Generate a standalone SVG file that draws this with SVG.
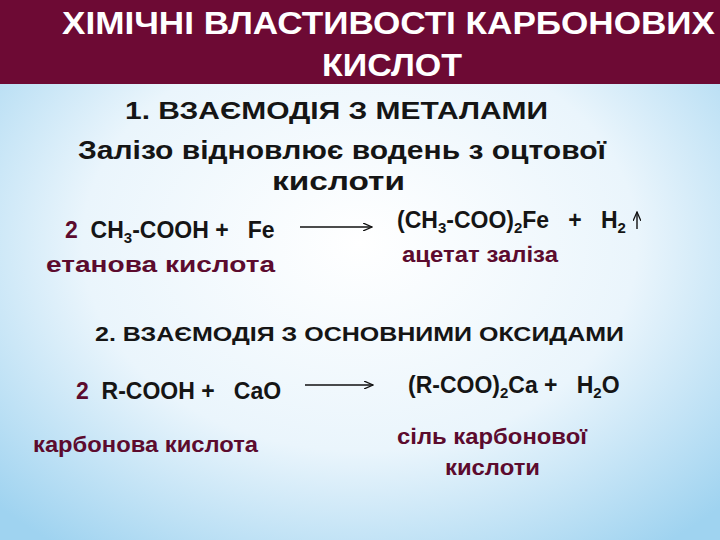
<svg xmlns="http://www.w3.org/2000/svg" width="720" height="540" viewBox="0 0 720 540">
<defs>
<radialGradient id="bg" cx="50%" cy="45%" r="70%">
<stop offset="0" stop-color="#ffffff"/>
<stop offset="0.55" stop-color="#eaf5fc"/>
<stop offset="1" stop-color="#9fd3f0"/>
</radialGradient>
<marker id="ah" markerWidth="10" markerHeight="8" refX="9" refY="4" orient="auto" markerUnits="userSpaceOnUse">
<path d="M0,0 L9,4 L0,8" fill="none" stroke="#111" stroke-width="1.3"/>
</marker>
<style>
text{font-family:"Liberation Sans",Arial,sans-serif;font-weight:bold;fill:#151515;white-space:pre}
.t{fill:#fff;font-size:31px}
.h{font-size:24px}
.r{font-size:23px}
.m{fill:#5c0b2e}
.l{font-size:22px;fill:#5c0b2e}
line{stroke:#111;stroke-width:1.4}
</style>
</defs>
<rect width="720" height="540" fill="url(#bg)"/>
<g id="header">
<rect width="720" height="84" fill="#6d0a34"/>
<text class="t" x="62" y="34" textLength="653" lengthAdjust="spacingAndGlyphs">ХІМІЧНІ ВЛАСТИВОСТІ КАРБОНОВИХ</text>
<text class="t" x="322" y="76" textLength="140" lengthAdjust="spacingAndGlyphs">КИСЛОТ</text>
</g>
<g id="section1">
<text class="h" x="125" y="119" textLength="423" lengthAdjust="spacingAndGlyphs">1. ВЗАЄМОДІЯ З МЕТАЛАМИ</text>
<text class="h" x="78" y="159" textLength="528" lengthAdjust="spacingAndGlyphs" style="font-size:25px">Залізо відновлює водень з оцтової</text>
<text class="h" x="272" y="190" textLength="133" lengthAdjust="spacingAndGlyphs" style="font-size:25px">кислоти</text>
</g>
<g id="reaction1">
<text class="r" x="65" y="238"><tspan class="m">2</tspan>  CH<tspan font-size="15" dy="5">3</tspan><tspan dy="-5">-COOH +   Fe</tspan></text>
<text class="r" x="397" y="228">(CH<tspan font-size="15" dy="5">3</tspan><tspan dy="-5">-COO)</tspan><tspan font-size="15" dy="5">2</tspan><tspan dy="-5">Fe   +   H</tspan><tspan font-size="15" dy="5">2</tspan></text>
<text class="l" x="46" y="272" textLength="229" lengthAdjust="spacingAndGlyphs">етанова кислота</text>
<text class="l" x="402" y="262" textLength="156" lengthAdjust="spacingAndGlyphs">ацетат заліза</text>
</g>
<g id="section2">
<text class="h" x="95" y="341" textLength="529" lengthAdjust="spacingAndGlyphs" style="font-size:21px">2. ВЗАЄМОДІЯ З ОСНОВНИМИ ОКСИДАМИ</text>
</g>
<g id="reaction2">
<text class="r" x="76" y="399"><tspan class="m">2</tspan>  R-COOH +   CaO</text>
<text class="r" x="408" y="393">(R-COO)<tspan font-size="15" dy="5">2</tspan><tspan dy="-5">Ca +   H</tspan><tspan font-size="15" dy="5">2</tspan><tspan dy="-5">O</tspan></text>
<text class="l" x="33" y="452" textLength="225" lengthAdjust="spacingAndGlyphs">карбонова кислота</text>
<text class="l" x="397" y="444" textLength="190" lengthAdjust="spacingAndGlyphs">сіль карбонової</text>
<text class="l" x="445" y="475" textLength="95" lengthAdjust="spacingAndGlyphs">кислоти</text>
</g>
<g id="connectors">
<line x1="300" y1="227" x2="372" y2="227" marker-end="url(#ah)"/>
<line x1="305" y1="385" x2="373" y2="385" marker-end="url(#ah)"/>
<line x1="637" y1="229" x2="637" y2="212" marker-end="url(#ah)"/>
</g>
</svg>
